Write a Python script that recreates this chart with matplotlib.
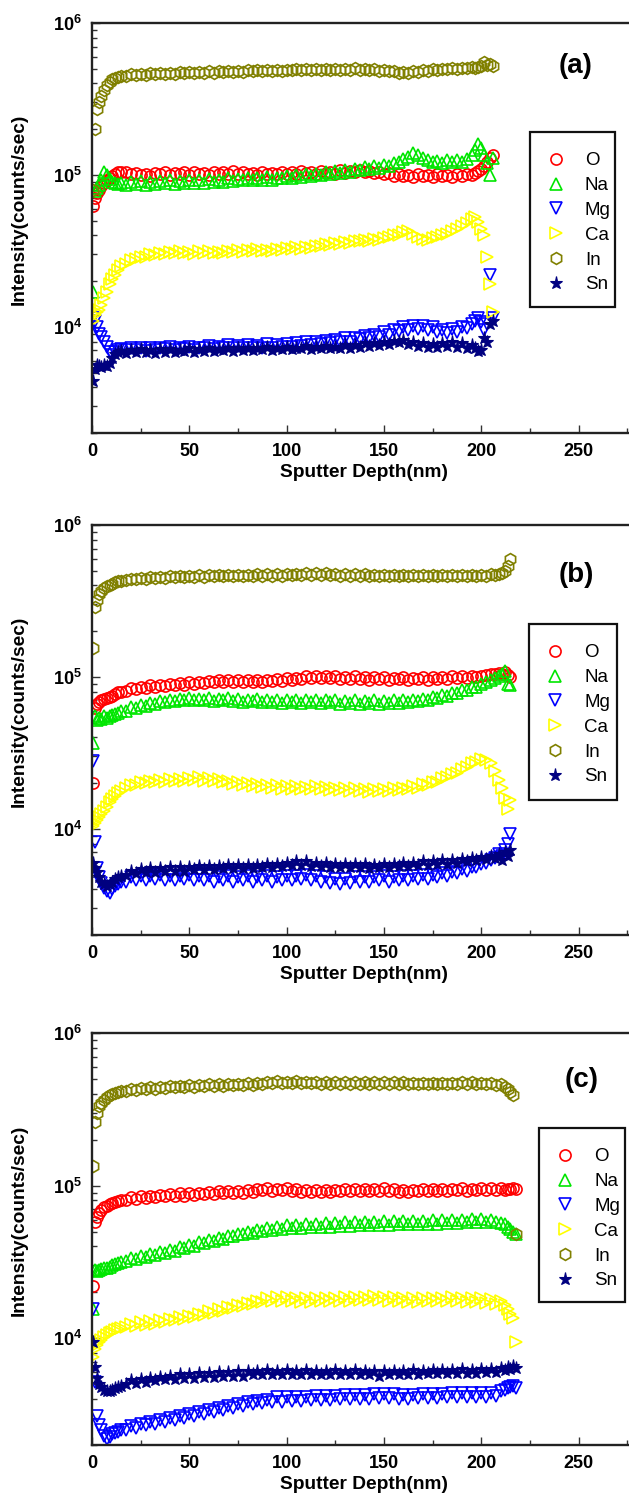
import numpy as np
import matplotlib
matplotlib.use("Agg")
import matplotlib.pyplot as plt
from matplotlib.patches import Rectangle
from matplotlib.ticker import LogLocator, NullFormatter, FixedLocator, FixedFormatter, MultipleLocator

plt.rcParams['font.family'] = ['Liberation Sans', 'DejaVu Sans']
plt.rcParams['mathtext.fontset'] = 'custom'
plt.rcParams['mathtext.rm'] = 'Liberation Sans'
plt.rcParams['mathtext.bf'] = 'Liberation Sans:bold'

# ---------------- shared plateau depth grid pieces ----------------
early_depth = [0.5, 1.5, 2.5, 3.5, 4.5, 6, 7.5, 9, 10.5, 12, 13.5, 15]
plateau_depth = [17.5, 20, 22.5, 25, 27.5, 30, 32.5, 35, 37.5, 40, 42.5, 45, 47.5, 50,
                 52.5, 55, 57.5, 60, 62.5, 65, 67.5, 70, 72.5, 75, 77.5, 80, 82.5, 85,
                 87.5, 90, 92.5, 95, 97.5, 100, 102.5, 105, 107.5, 110, 112.5, 115, 117.5,
                 120, 122.5, 125, 127.5, 130, 132.5, 135, 137.5, 140, 142.5, 145, 147.5,
                 150, 152.5, 155, 157.5, 160, 162.5, 165, 167.5, 170, 172.5, 175, 177.5,
                 180, 182.5, 185, 187.5, 190, 192.5, 195]

# ---------------- panel (a) ----------------
depth_a = early_depth + plateau_depth + [197, 198.5, 200, 201.5, 203, 204.5, 206]
O_a = [62, 70, 76, 80, 84, 88, 92, 96, 99, 102, 104, 105,
       104, 101, 103, 100, 102, 99, 103, 101,
       104, 100, 103, 101, 105, 100, 104, 102,
       103, 100, 105, 101, 104, 102, 106, 101,
       104, 101, 103, 100, 104, 102, 103, 101,
       104, 102, 105, 101, 106, 103, 105, 102,
       106, 103, 105, 102, 107, 103, 106, 104,
       107, 104, 106, 103, 105, 101, 103, 99,
       101, 98, 100, 97, 101, 98, 100, 97,
       101, 98, 100, 97, 101, 99, 102, 100,
       103, 106, 110, 115, 122, 130, 136]
Na_a = [17, 78, 82, 86, 92, 104, 100, 94, 90, 88, 87, 88,
        86, 90, 87, 91, 86, 90, 87, 91,
        88, 92, 87, 91, 89, 93, 88, 92,
        89, 94, 90, 93, 90, 95, 91, 94,
        92, 96, 92, 95, 93, 97, 93, 96,
        95, 99, 96, 100, 97, 101, 98, 102,
        100, 104, 101, 106, 103, 108, 104, 110,
        107, 112, 109, 114, 111, 117, 114, 120,
        122, 128, 132, 140, 136, 130, 126, 121,
        124, 120, 125, 121, 126, 122, 128, 135,
        145, 160, 150, 135, 120, 100, 130]
Mg_a = [11.5, 11, 10, 9, 8.6, 8, 7.4, 6.8, 6.5, 6.8, 7, 7.1,
        7.0, 7.3, 7.0, 7.2, 6.9, 7.3, 7.0, 7.2,
        7.1, 7.4, 7.0, 7.3, 7.1, 7.4, 7.0, 7.3,
        7.2, 7.5, 7.1, 7.4, 7.2, 7.6, 7.2, 7.5,
        7.3, 7.6, 7.2, 7.5, 7.3, 7.7, 7.3, 7.6,
        7.4, 7.7, 7.4, 7.8, 7.5, 7.9, 7.6, 8.0,
        7.7, 8.1, 7.8, 8.2, 7.9, 8.4, 8.0, 8.5,
        8.3, 8.7, 8.4, 8.9, 8.6, 9.2, 8.8, 9.5,
        9.4, 10.0, 9.6, 10.2, 9.7, 10.1, 9.5, 9.9,
        9.2, 9.6, 9.1, 9.7, 9.3, 9.9, 9.8, 10.5,
        11.0, 11.5, 10.8, 9.5, 10.5, 22, 11.5]
Ca_a = [11, 12, 12.5, 13, 14, 15.5, 17, 19, 20.5, 22, 23.5, 25,
        26, 27.5, 28, 29, 29, 30, 29.5, 30.5,
        30, 31, 30.5, 31.5, 30.5, 31, 30, 31.5,
        30.5, 31.5, 30.5, 31, 30.5, 31.5, 31, 32,
        31, 32, 31.5, 32.5, 31.5, 32, 31.5, 32.5,
        32, 33, 32.5, 33.5, 32.5, 33.5, 33, 34,
        34, 35, 34.5, 35.5, 35, 36, 35.5, 36.5,
        36.5, 37.5, 37, 38, 37.5, 38.5, 39, 40,
        40.5, 42, 43, 41, 39, 38, 37.5, 38.5,
        39, 40, 41, 42.5, 44, 46, 48.5, 51,
        53, 49, 44, 40, 29, 19, 12.5]
In_a = [80, 200, 270, 300, 330, 360, 390, 410, 425, 435, 440, 445,
        450, 460, 455, 465, 458, 468, 460, 470,
        463, 472, 465, 474, 467, 476, 468, 478,
        470, 480, 472, 482, 474, 484, 476, 486,
        478, 488, 480, 490, 482, 491, 483, 492,
        485, 494, 487, 496, 488, 497, 489, 498,
        490, 499, 491, 500, 492, 501, 493, 502,
        492, 500, 490, 497, 486, 493, 480, 486,
        472, 478, 470, 480, 478, 488, 485, 495,
        490, 500, 495, 505, 498, 508, 502, 512,
        505, 515, 520, 550, 530, 540, 520]
Sn_a = [4.4, 5.3, 5.6, 5.5, 5.4, 5.6, 5.5, 5.8, 6.2, 6.6, 6.8, 6.9,
        6.7, 7.0, 6.8, 7.1, 6.8, 7.0, 6.7, 7.1,
        6.8, 7.1, 6.8, 7.0, 6.9, 7.2, 6.8, 7.1,
        6.9, 7.2, 6.9, 7.1, 7.0, 7.3, 6.9, 7.2,
        7.0, 7.3, 7.0, 7.2, 7.1, 7.4, 7.0, 7.3,
        7.1, 7.4, 7.1, 7.3, 7.2, 7.5, 7.1, 7.4,
        7.2, 7.5, 7.2, 7.4, 7.3, 7.6, 7.3, 7.6,
        7.4, 7.8, 7.5, 7.8, 7.6, 8.0, 7.7, 8.1,
        7.9, 8.2, 7.7, 8.0, 7.5, 7.8, 7.4, 7.7,
        7.4, 7.8, 7.5, 7.9, 7.4, 7.8, 7.3, 7.6,
        7.2, 6.9, 7.0, 8.5, 8.0, 10.5, 11.0]

# ---------------- panel (b) ----------------
depth_b = early_depth + plateau_depth + [197.5, 200, 202.5, 205] + [207, 209, 210.5, 212, 213.5, 215]
O_b = [20, 62, 66, 68, 70, 72, 73, 74, 75, 77, 79, 80,
       81, 84, 83, 86, 85, 88, 86, 89,
       87, 90, 88, 91, 89, 92, 90, 93,
       91, 94, 92, 95, 92, 96, 93, 95,
       92, 96, 93, 95, 92, 96, 94, 97,
       94, 98, 96, 99, 97, 101, 98, 101,
       99, 102, 98, 101, 97, 100, 97, 101,
       97, 100, 96, 100, 97, 100, 96, 99,
       97, 100, 96, 99, 97, 100, 96, 100,
       97, 100, 97, 101, 98, 101, 99, 102,
       100, 102, 103, 104,
       105, 106, 104, 108, 103, 100]
Na_b = [37, 55, 52, 54, 53, 55, 54, 55, 56, 57, 58, 60,
        60, 63, 62, 65, 64, 67, 66, 69,
        68, 71, 69, 72, 70, 73, 70, 72,
        70, 73, 69, 72, 70, 73, 69, 72,
        68, 71, 69, 72, 68, 71, 68, 70,
        67, 70, 68, 71, 67, 70, 68, 71,
        67, 70, 68, 71, 66, 69, 67, 70,
        66, 69, 67, 70, 66, 69, 67, 70,
        67, 70, 68, 71, 69, 72, 71, 74,
        73, 76, 75, 78, 78, 82, 82, 86,
        86, 90, 92, 95,
        98, 102, 104, 110, 90, 88]
Mg_b = [28, 8.2, 5.5, 4.8, 4.4, 4.1, 3.9, 3.8, 4.0, 4.2, 4.3, 4.5,
        4.5, 4.8, 4.6, 4.9, 4.6, 4.9, 4.7, 5.0,
        4.6, 4.9, 4.6, 4.9, 4.7, 5.0, 4.6, 4.9,
        4.6, 4.9, 4.5, 4.8, 4.6, 4.9, 4.5, 4.8,
        4.6, 4.9, 4.5, 4.8, 4.6, 4.9, 4.5, 4.8,
        4.6, 4.9, 4.6, 4.9, 4.7, 5.0, 4.6, 4.9,
        4.5, 4.8, 4.4, 4.7, 4.3, 4.7, 4.4, 4.8,
        4.5, 4.8, 4.5, 4.8, 4.6, 4.9, 4.5, 4.8,
        4.6, 4.9, 4.6, 4.9, 4.7, 5.0, 4.7, 5.0,
        4.8, 5.1, 4.9, 5.2, 5.1, 5.4, 5.3, 5.6,
        5.6, 5.9, 6.0, 6.2,
        6.4, 6.8, 6.6, 7.2, 8.0, 9.2]
Ca_b = [10.5, 11, 11.5, 12, 12.5, 13.2, 14, 15, 15.8, 16.5, 17.2, 17.8,
        18.5, 19.3, 19.5, 20.2, 20, 20.7, 20.3, 21,
        20.4, 21.2, 20.6, 21.4, 20.8, 21.6, 21, 21.8,
        20.8, 21.5, 20.5, 21.2, 20.2, 20.8, 19.7, 20.4,
        19.4, 20, 19.1, 19.7, 18.8, 19.5, 18.6, 19.3,
        18.4, 19.1, 18.3, 19, 18.2, 18.9, 18.4, 19.1,
        18.2, 18.9, 18, 18.7, 17.9, 18.6, 17.8, 18.5,
        17.7, 18.4, 17.6, 18.3, 17.7, 18.4, 17.8, 18.5,
        17.9, 18.6, 18.2, 19, 18.7, 19.6, 19.4, 20.4,
        20.4, 21.5, 21.8, 23, 23.4, 24.8, 25.5, 27,
        27.5, 29, 28.5, 27,
        24, 21, 18.5, 16, 13.5, 15.5]
In_b = [155, 290, 320, 350, 370, 385, 395, 405, 412, 420, 425, 430,
        432, 442, 438, 448, 442, 452, 446, 456,
        450, 460, 452, 462, 455, 464, 456, 466,
        458, 468, 459, 469, 460, 470, 461, 471,
        462, 472, 463, 473, 463, 473, 464, 474,
        465, 475, 466, 478, 470, 482, 472, 484,
        470, 480, 466, 476, 464, 474, 463, 473,
        463, 473, 462, 472, 462, 472, 461, 471,
        461, 471, 460, 470, 460, 470, 460, 470,
        460, 470, 461, 471, 461, 471, 462, 472,
        462, 472, 463, 473,
        468, 476, 480, 500, 540, 600]
Sn_b = [6.0, 5.5, 5.2, 4.8, 4.5, 4.3, 4.2, 4.3, 4.5, 4.7, 4.8, 4.9,
        5.0, 5.3, 5.1, 5.4, 5.2, 5.5, 5.2, 5.5,
        5.3, 5.6, 5.3, 5.6, 5.3, 5.6, 5.4, 5.7,
        5.4, 5.7, 5.4, 5.7, 5.5, 5.8, 5.5, 5.8,
        5.5, 5.8, 5.5, 5.8, 5.6, 5.9, 5.6, 5.9,
        5.7, 6.0, 5.8, 6.1, 5.8, 6.1, 5.7, 6.0,
        5.7, 6.0, 5.6, 5.9, 5.6, 5.9, 5.6, 5.9,
        5.6, 5.9, 5.5, 5.8, 5.6, 5.9, 5.6, 5.9,
        5.7, 6.0, 5.7, 6.0, 5.8, 6.1, 5.8, 6.1,
        5.9, 6.2, 5.9, 6.2, 6.0, 6.3, 6.1, 6.4,
        6.2, 6.5, 6.3, 6.6,
        6.4, 6.8, 6.2, 7.0, 6.6, 7.2]

# ---------------- panel (c) ----------------
depth_c = early_depth + plateau_depth + [197.5, 200, 202.5, 205, 207.5, 210] + [212, 213.5, 215, 216.5, 218]
O_c = [22, 58, 62, 66, 69, 72, 74, 76, 77, 78, 79, 80,
       81, 84, 82, 85, 83, 86, 84, 87,
       85, 88, 86, 89, 86, 90, 87, 90,
       88, 91, 88, 92, 89, 92, 89, 92,
       90, 93, 91, 95, 93, 97, 92, 95,
       93, 97, 92, 95, 91, 94, 91, 94,
       91, 94, 91, 94, 92, 95, 92, 95,
       92, 95, 92, 95, 92, 96, 92, 95,
       91, 94, 91, 94, 92, 95, 92, 95,
       92, 95, 92, 95, 93, 96, 92, 95,
       93, 96, 93, 96, 93, 96,
       94, 95, 95, 96, 95]
Na_c = [15.5, 28, 27.5, 28, 28.5, 29, 29, 29.5, 30, 30.5, 31, 31.5,
        32, 33.5, 33, 34.5, 34, 35.5, 35, 36.5,
        36, 38, 37.5, 39.5, 39, 41, 40.5, 42.5,
        42, 44, 43.5, 45.5, 45, 47, 46.5, 48.5,
        48, 50, 49, 51.5, 50.5, 53, 51.5, 54,
        52, 55, 52.5, 55.5, 53, 56, 53.5, 56.5,
        54, 57, 54, 57, 54.5, 57.5, 54.5, 57.5,
        55, 58, 55, 58, 55.5, 58.5, 55.5, 58.5,
        56, 59, 56, 59, 56, 59, 56.5, 59.5,
        56.5, 59.5, 57, 60, 57, 60, 57.5, 60.5,
        57.5, 60.5, 57.5, 60, 58, 57,
        56, 54, 52, 50, 48]
Mg_c = [15.5, 5.2, 3.1, 2.7, 2.5, 2.3, 2.2, 2.25, 2.35, 2.4, 2.45, 2.5,
        2.5, 2.65, 2.6, 2.75, 2.7, 2.85, 2.75, 2.9,
        2.85, 3.0, 2.9, 3.1, 3.0, 3.2, 3.1, 3.3,
        3.2, 3.4, 3.3, 3.5, 3.4, 3.6, 3.5, 3.7,
        3.6, 3.8, 3.7, 3.9, 3.75, 3.95, 3.8, 4.1,
        3.85, 4.1, 3.9, 4.15, 3.9, 4.15, 3.95, 4.2,
        3.95, 4.2, 3.95, 4.2, 4.0, 4.25, 4.0, 4.25,
        4.0, 4.25, 4.0, 4.3, 4.05, 4.3, 4.05, 4.3,
        4.0, 4.25, 4.0, 4.25, 4.05, 4.3, 4.05, 4.3,
        4.05, 4.3, 4.1, 4.35, 4.1, 4.35, 4.1, 4.35,
        4.1, 4.35, 4.1, 4.4, 4.2, 4.5,
        4.6, 4.7, 4.8, 4.9, 4.7]
Ca_c = [7.5, 8.5, 9.0, 9.5, 9.8, 10.2, 10.5, 10.8, 11.0, 11.3, 11.5, 11.7,
        11.8, 12.4, 12.1, 12.7, 12.3, 12.9, 12.5, 13.1,
        12.8, 13.4, 13.1, 13.7, 13.4, 14.1, 13.8, 14.5,
        14.2, 15.0, 14.7, 15.5, 15.2, 16.0, 15.7, 16.5,
        16.2, 17.0, 16.7, 17.5, 17.2, 18.3, 17.5, 18.6,
        17.6, 18.6, 17.5, 18.5, 17.4, 18.4, 17.4, 18.4,
        17.5, 18.5, 17.5, 18.5, 17.6, 18.6, 17.6, 18.6,
        17.7, 18.7, 17.7, 18.8, 17.7, 18.7, 17.6, 18.6,
        17.5, 18.5, 17.4, 18.4, 17.4, 18.4, 17.5, 18.5,
        17.5, 18.5, 17.6, 18.6, 17.5, 18.5, 17.4, 18.4,
        17.3, 18.3, 17.1, 18.0, 16.8, 17.5,
        16.5, 15.5, 14.5, 13.5, 9.5]
In_c = [135, 260, 300, 330, 350, 365, 380, 390, 398, 405, 410, 415,
        418, 430, 424, 436, 428, 440, 432, 444,
        436, 448, 440, 452, 443, 455, 446, 458,
        448, 460, 450, 462, 452, 464, 454, 466,
        456, 468, 459, 472, 465, 480, 470, 482,
        468, 480, 470, 482, 468, 480, 467, 479,
        466, 478, 465, 477, 464, 476, 464, 476,
        463, 475, 463, 475, 462, 474, 462, 474,
        462, 474, 461, 473, 461, 473, 461, 473,
        461, 473, 461, 473, 462, 474, 462, 474,
        461, 473, 460, 470, 455, 465,
        445, 430, 410, 395, 48]
Sn_c = [9.5, 6.5, 5.5, 5.0, 4.8, 4.6, 4.5, 4.5, 4.6, 4.7, 4.8, 4.9,
        5.0, 5.3, 5.1, 5.4, 5.2, 5.5, 5.3, 5.6,
        5.4, 5.7, 5.4, 5.8, 5.5, 5.8, 5.5, 5.9,
        5.6, 5.9, 5.6, 6.0, 5.7, 6.0, 5.7, 6.1,
        5.7, 6.1, 5.8, 6.1, 5.8, 6.2, 5.8, 6.1,
        5.8, 6.2, 5.8, 6.1, 5.8, 6.2, 5.8, 6.1,
        5.8, 6.1, 5.8, 6.2, 5.8, 6.1, 5.8, 6.2,
        5.8, 6.1, 5.8, 6.1, 5.7, 6.1, 5.8, 6.1,
        5.8, 6.1, 5.8, 6.2, 5.8, 6.1, 5.9, 6.2,
        5.9, 6.2, 5.9, 6.2, 5.9, 6.3, 5.9, 6.2,
        5.9, 6.3, 6.0, 6.3, 6.0, 6.4,
        6.2, 6.5, 6.3, 6.6, 6.4]

elements = ["O", "Na", "Mg", "Ca", "In", "Sn"]
panel_labels = ["(a)", "(b)", "(c)"]
x_ticks = [0, 50, 100, 150, 200, 250]
y_ticks = [1e4, 1e5, 1e6]
y_tick_labels = [r"$\mathbf{10^{4}}$", r"$\mathbf{10^{5}}$", r"$\mathbf{10^{6}}$"]

panels = [
    (depth_a, [O_a, Na_a, Mg_a, Ca_a, In_a, Sn_a]),
    (depth_b, [O_b, Na_b, Mg_b, Ca_b, In_b, Sn_b]),
    (depth_c, [O_c, Na_c, Mg_c, Ca_c, In_c, Sn_c]),
]

styles = {
    "O":  dict(marker="o", color="#ff0000", filled=False, ms=8.0),
    "Na": dict(marker="^", color="#00e600", filled=False, ms=9.0),
    "Mg": dict(marker="v", color="#0000ff", filled=False, ms=9.0),
    "Ca": dict(marker=">", color="#ffff00", filled=False, ms=9.0),
    "In": dict(marker="h", color="#808000", filled=False, ms=8.5),
    "Sn": dict(marker="*", color="#000080", filled=True, ms=9.5),
}

W, H = 629, 1498
fig = plt.figure(figsize=(W / 100, H / 100), dpi=100)

axes_px = [(23, 433), (525, 935), (1033, 1445)]
left_px, width_px = 92, 545
# legend frame boxes: (left, top, right, bottom) in pixels
legend_box_px = [(530, 132, 615, 307), (529, 624, 617, 800), (539, 1128, 625, 1302)]
# first-entry centre y (pixels)
legend_first_px = [159, 651, 1155]
label_px = [(576, 66), (576, 575), (582, 1080)]

FS_LEG = 13.5
fs_px = FS_LEG * 100 / 72.0

for i, (depth, series) in enumerate(panels):
    top, bot = axes_px[i]
    ax = fig.add_axes([left_px / W, 1 - bot / H, width_px / W, (bot - top) / H])
    x = np.array(depth, dtype=float)
    for name, vals in zip(elements, series):
        assert len(vals) == len(x), (i, name, len(vals), len(x))
        st = styles[name]
        y = np.array(vals, dtype=float) * 1e3
        if st["filled"]:
            ax.plot(x, y, linestyle="none", marker=st["marker"], ms=st["ms"],
                    mfc=st["color"], mec=st["color"], mew=0.8, label=name)
        else:
            ax.plot(x, y, linestyle="none", marker=st["marker"], ms=st["ms"],
                    mfc="none", mec=st["color"], mew=1.2, label=name)
    ax.set_yscale("log")
    ax.set_xlim(0, 280)
    ax.set_ylim(2e3, 1e6)
    ax.xaxis.set_major_locator(FixedLocator(x_ticks))
    ax.xaxis.set_minor_locator(MultipleLocator(25))
    ax.yaxis.set_major_locator(FixedLocator(y_ticks))
    ax.yaxis.set_major_formatter(FixedFormatter(y_tick_labels))
    ax.yaxis.set_minor_locator(LogLocator(base=10, subs=range(2, 10)))
    ax.yaxis.set_minor_formatter(NullFormatter())
    ax.tick_params(which="both", direction="in", top=False, right=False, width=1.0, color="#333333")
    ax.tick_params(which="major", length=6, labelsize=13, pad=7)
    ax.tick_params(which="minor", length=3.5)
    for lab in ax.get_xticklabels():
        lab.set_fontweight("bold")
    for sp in ax.spines.values():
        sp.set_linewidth(1.7)
        sp.set_color("#222222")
    ax.set_xlabel("Sputter Depth(nm)", fontsize=13.8, fontweight="bold")
    ax.xaxis.set_label_coords(0.5, -0.075)
    ax.set_ylabel("Intensity(counts/sec)", fontsize=13.8, fontweight="bold")
    ax.yaxis.set_label_coords(-0.118, 0.545)
    lx, ly = label_px[i]
    fig.text(lx / W, 1 - ly / H, panel_labels[i], fontsize=20, fontweight="bold",
             ha="center", va="center")

    # legend frame drawn as a rectangle
    bl, bt, br, bb = legend_box_px[i]
    fig.patches.append(Rectangle((bl / W, 1 - bb / H), (br - bl) / W, (bb - bt) / H,
                                 transform=fig.transFigure, fill=False,
                                 edgecolor="#111111", linewidth=1.6, zorder=5))
    # legend entries (marker centre at left+26 px, text at left+55 px)
    hl = 1.1
    anchor_x = bl + 26 - hl * fs_px / 2
    htp = (bl + 55 - anchor_x - hl * fs_px) / fs_px
    anchor_y = legend_first_px[i] - 6.7
    leg = ax.legend(loc="upper left", bbox_to_anchor=(anchor_x / W, 1 - anchor_y / H),
                    bbox_transform=fig.transFigure, frameon=False,
                    fontsize=FS_LEG, handlelength=hl, handletextpad=htp,
                    borderpad=0.0, labelspacing=0.41, borderaxespad=0.0)

fig.savefig("out.png", dpi=100)
